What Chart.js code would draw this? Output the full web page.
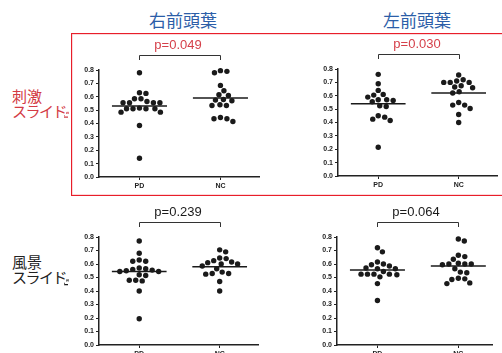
<!DOCTYPE html>
<html>
<head>
<meta charset="utf-8">
<script src="https://cdn.jsdelivr.net/npm/chart.js@4.4.0/dist/chart.umd.min.js"></script>
<style>
  html, body { margin: 0; padding: 0; background: #fff; }
  body { width: 502px; height: 353px; overflow: hidden; position: relative; font-family: "Noto Sans CJK JP", sans-serif; }
  canvas { position: absolute; z-index: 1; }
  .title { position: absolute; top: 9px; font-size: 17px; line-height: 22px; color: #2c5ea8; transform: translateX(-50%); white-space: nowrap; }
  .rowlabel { position: absolute; left: 12px; font-size: 15px; line-height: 15px; }
  .rowlabel span { letter-spacing: -1.5px; }
  #box { position: absolute; left: 71px; top: 33px; width: 440px; height: 161px; border-top: 1px solid #e81e2a; border-left: 1px solid #e81e2a; border-bottom: 1px solid #e81e2a; box-shadow: inset 0 0 0 0.5px rgba(232,30,42,0.35); pointer-events: none; z-index: 5; }
</style>
</head>
<body>
<div class="title" style="left:183px">右前頭葉</div>
<div class="title" style="left:417px">左前頭葉</div>
<div class="rowlabel" style="top:88px;color:#d33a44">刺激<br><span>スライド</span></div>
<div class="rowlabel" style="top:254px;color:#222">風景<br><span>スライド</span></div>
<div id="box"></div>

<script>
// data
const groups = ["PD", "NC"];
const yTicks = [0, 0.1, 0.2, 0.3, 0.4, 0.5, 0.6, 0.7, 0.8];

// 刺激スライド
const rightStimPD = [0.78, 0.63, 0.625, 0.585, 0.585, 0.565, 0.555, 0.555, 0.555, 0.555, 0.515, 0.51, 0.51, 0.51, 0.51, 0.485, 0.485, 0.385, 0.14];
const rightStimNC = [0.795, 0.79, 0.78, 0.685, 0.645, 0.615, 0.61, 0.58, 0.575, 0.57, 0.54, 0.535, 0.535, 0.445, 0.435, 0.435, 0.415];
const leftStimPD = [0.76, 0.69, 0.64, 0.61, 0.605, 0.59, 0.57, 0.57, 0.565, 0.555, 0.525, 0.52, 0.45, 0.44, 0.425, 0.415, 0.215];
const leftStimNC = [0.755, 0.72, 0.71, 0.70, 0.70, 0.70, 0.675, 0.665, 0.66, 0.63, 0.62, 0.55, 0.53, 0.53, 0.505, 0.46, 0.40];

// 風景スライド
const rightScenePD = [0.77, 0.68, 0.63, 0.62, 0.62, 0.57, 0.565, 0.56, 0.555, 0.55, 0.545, 0.545, 0.52, 0.515, 0.48, 0.48, 0.475, 0.40, 0.195];
const rightSceneNC = [0.705, 0.69, 0.645, 0.64, 0.625, 0.615, 0.61, 0.60, 0.60, 0.585, 0.565, 0.54, 0.53, 0.53, 0.525, 0.47, 0.40];
const leftScenePD = [0.72, 0.69, 0.615, 0.60, 0.595, 0.585, 0.57, 0.565, 0.565, 0.545, 0.525, 0.525, 0.525, 0.525, 0.52, 0.505, 0.455, 0.33];
const leftSceneNC = [0.785, 0.77, 0.665, 0.655, 0.635, 0.605, 0.60, 0.60, 0.60, 0.595, 0.565, 0.54, 0.535, 0.495, 0.49, 0.485, 0.46, 0.455];

// median bars [PD, NC]
const rightStimMedian = [0.53, 0.59];
const leftStimMedian = [0.54, 0.62];
const rightSceneMedian = [0.545, 0.58];
const leftSceneMedian = [0.555, 0.585];

const pLabels = ["p=0.049", "p=0.030", "p=0.239", "p=0.064"];

const RED = "#d5404a";
const INK = "#1a1a1a";
const X_MIN = 0.5;
const DOT = 6.2;     // px spacing between dot centres
const HALF_BAR = 0.34;

// simple beeswarm: each dot goes to the nearest free spot beside the group centre
function swarm(values, center, pxX, pxY) {
  const placed = [];
  return [...values].sort((a, b) => b - a).map(v => {
    const py = v * pxY;
    let off = 0;
    for (let k = 0; k < 400; k++) {
      const cand = k === 0 ? 0 : (k % 2 ? Math.ceil(k / 2) : -k / 2) * 0.5;
      if (placed.every(p => Math.hypot(p.x - cand, p.y - py) >= DOT)) { off = cand; break; }
    }
    placed.push({ x: off, y: py });
    return { x: center + off / pxX, y: v };
  });
}

const bracketPlugin = {
  id: "bracket",
  afterDraw(chart, args, opts) {
    const { ctx, chartArea, scales } = chart;
    const x1 = Math.round(scales.x.getPixelForValue(1)) + 0.5;
    const x2 = Math.round(scales.x.getPixelForValue(2)) + 0.5;
    const y = Math.round(chartArea.top - 15) + 0.5;
    ctx.save();
    ctx.strokeStyle = "#333";
    ctx.lineWidth = 1;
    ctx.beginPath();
    ctx.moveTo(x1, y + 4.5);
    ctx.lineTo(x1, y);
    ctx.lineTo(x2, y);
    ctx.lineTo(x2, y + 4.5);
    ctx.stroke();
    ctx.fillStyle = opts.color;
    ctx.font = '13px "Liberation Sans", Arial, sans-serif';
    ctx.textAlign = "center";
    ctx.textBaseline = "middle";
    ctx.fillText(opts.text, (x1 + x2) / 2 - 2, chartArea.top - 25);
    if (opts.yTitle) {
      // rotated r_s label, mostly hidden in the source
      ctx.translate(chartArea.left - 33, scales.y.getPixelForValue(0.45));
      ctx.rotate(-Math.PI / 2);
      ctx.font = 'bold 8px "Liberation Sans", Arial, sans-serif';
      ctx.fillText("r", 0, 0);
      ctx.font = 'bold 5px "Liberation Sans", Arial, sans-serif';
      ctx.fillText("s", 4, 2);
    }
    ctx.restore();
  }
};

function makePanel(p) {
  const canvas = document.createElement("canvas");
  const w = 40 + (p.xEnd - p.axisX) + 2;
  const h = 40 + (p.y0 - p.y08) + 20;
  canvas.width = w;
  canvas.height = h;
  canvas.style.width = w + "px";
  canvas.style.height = h + "px";
  canvas.style.left = (p.axisX - 40) + "px";
  canvas.style.top = (p.y08 - 40) + "px";
  document.body.appendChild(canvas);

  const pxX = (p.xEnd - p.axisX) / (p.xMax - X_MIN);
  const pxY = (p.y0 - p.y08) / 0.8;
  const tickFont = { family: '"Liberation Sans", Arial, sans-serif', size: 7, weight: "bold" };

  const dots = ds => ({
    type: "scatter", data: ds, pointRadius: 2.7, pointHoverRadius: 2.7,
    backgroundColor: INK, borderWidth: 0, clip: false
  });
  const bar = (c, m) => ({
    type: "line", data: [{ x: c - HALF_BAR, y: m }, { x: c + HALF_BAR, y: m }],
    borderColor: INK, borderWidth: 1.5, pointRadius: 0, clip: false
  });

  new Chart(canvas, {
    type: "scatter",
    data: {
      datasets: [
        dots(swarm(p.pd, 1, pxX, pxY)),
        dots(swarm(p.nc, 2, pxX, pxY)),
        bar(1, p.med[0]),
        bar(2, p.med[1])
      ]
    },
    options: {
      responsive: false,
      animation: false,
      layout: { padding: { top: 40, right: 2, left: 0, bottom: 0 } },
      plugins: {
        legend: { display: false },
        tooltip: { enabled: false },
        bracket: { text: p.label, color: p.color, yTitle: p.yTitle }
      },
      scales: {
        x: {
          type: "linear", min: X_MIN, max: p.xMax,
          afterFit: s => { s.height = 20; },
          afterBuildTicks: s => { s.ticks = groups.map((g, i) => ({ value: i + 1 })); },
          ticks: { font: tickFont, color: "#222", padding: 2, callback: v => groups[v - 1] },
          grid: { drawOnChartArea: false, tickLength: 3, color: "#222", lineWidth: 1 },
          border: { display: true, color: "#222", width: 1.5 }
        },
        y: {
          min: 0, max: 0.8,
          afterFit: s => { s.width = 40; },
          afterBuildTicks: s => { s.ticks = yTicks.map(v => ({ value: v })); },
          ticks: { font: tickFont, color: "#222", padding: 2, callback: v => v.toFixed(1) },
          grid: { drawOnChartArea: false, tickLength: 3, color: "#222", lineWidth: 1 },
          border: { display: true, color: "#222", width: 1.5 }
        }
      }
    },
    plugins: [bracketPlugin]
  });
}

makePanel({ pd: rightStimPD, nc: rightStimNC, med: rightStimMedian, label: pLabels[0], color: RED, yTitle: true,
  axisX: 99, y08: 70, y0: 177, xEnd: 260, xMax: 2.48 });
makePanel({ pd: leftStimPD, nc: leftStimNC, med: leftStimMedian, label: pLabels[1], color: RED, yTitle: false,
  axisX: 338, y08: 69, y0: 176, xEnd: 498, xMax: 2.48 });
makePanel({ pd: rightScenePD, nc: rightSceneNC, med: rightSceneMedian, label: pLabels[2], color: INK, yTitle: true,
  axisX: 99, y08: 237, y0: 345, xEnd: 259, xMax: 2.48 });
makePanel({ pd: leftScenePD, nc: leftSceneNC, med: leftSceneMedian, label: pLabels[3], color: INK, yTitle: false,
  axisX: 337, y08: 237, y0: 345, xEnd: 493, xMax: 2.42 });
</script>
</body>
</html>
